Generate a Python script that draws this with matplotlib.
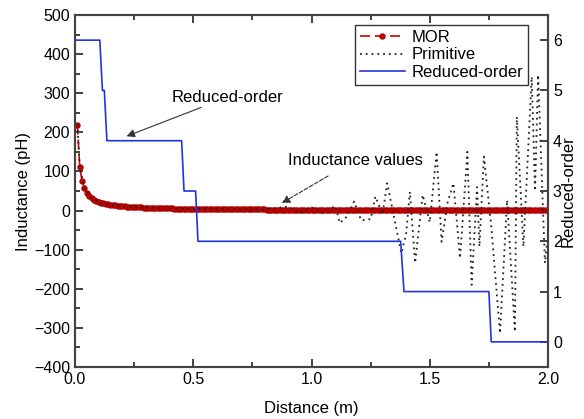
import numpy as np
import matplotlib
matplotlib.use("Agg")
import matplotlib.pyplot as plt
from matplotlib.ticker import MultipleLocator

plt.rcParams['font.family'] = ['Liberation Sans', 'DejaVu Sans']

# MOR inductance (pH), sampled every 0.01 m from 0.01 to 2.00 m
mor_x = np.round(np.arange(1, 201) * 0.01, 2)
mor_y = [
    220, 112, 76, 57, 45, 38, 32, 28, 25, 22,
    20, 18.5, 17, 16, 15, 14, 13, 12.3, 11.6, 11,
    10.5, 10, 9.6, 9.2, 8.8, 8.5, 8.1, 7.9, 7.6, 7.3,
    7.1, 6.9, 6.7, 6.5, 6.3, 6.1, 5.9, 5.8, 5.6, 5.5,
    5.4, 5.2, 5.1, 5.0, 4.9, 4.8, 4.7, 4.6, 4.5, 4.4,
    4.3, 4.2, 4.2, 4.1, 4.0, 3.9, 3.9, 3.8, 3.7, 3.7,
    3.6, 3.5, 3.5, 3.4, 3.4, 3.3, 3.3, 3.2, 3.2, 3.1,
    3.1, 3.1, 3.0, 3.0, 2.9, 2.9, 2.9, 2.8, 2.8, 2.8,
    2.7, 2.7, 2.7, 2.6, 2.6, 2.6, 2.5, 2.5, 2.5, 2.4,
    2.4, 2.4, 2.4, 2.3, 2.3, 2.3, 2.3, 2.2, 2.2, 2.2,
    2.2, 2.2, 2.1, 2.1, 2.1, 2.1, 2.1, 2.0, 2.0, 2.0,
    2.0, 2.0, 1.9, 1.9, 1.9, 1.9, 1.9, 1.9, 1.8, 1.8,
    1.8, 1.8, 1.8, 1.8, 1.8, 1.7, 1.7, 1.7, 1.7, 1.7,
    1.7, 1.7, 1.7, 1.6, 1.6, 1.6, 1.6, 1.6, 1.6, 1.6,
    1.6, 1.5, 1.5, 1.5, 1.5, 1.5, 1.5, 1.5, 1.5, 1.5,
    1.5, 1.4, 1.4, 1.4, 1.4, 1.4, 1.4, 1.4, 1.4, 1.4,
    1.4, 1.4, 1.3, 1.3, 1.3, 1.3, 1.3, 1.3, 1.3, 1.3,
    1.3, 1.3, 1.3, 1.3, 1.3, 1.2, 1.2, 1.2, 1.2, 1.2,
    1.2, 1.2, 1.2, 1.2, 1.2, 1.2, 1.2, 1.2, 1.2, 1.2,
    1.2, 1.1, 1.1, 1.1, 1.1, 1.1, 1.1, 1.1, 1.1, 1.1,
]

# Primitive inductance (pH)
prim_x = [0.01, 0.02, 0.04, 0.07, 0.10, 0.15, 0.20, 0.30, 0.40, 0.50,
          0.60, 0.70, 0.80, 0.90, 0.95, 1.00, 1.05, 1.10, 1.12, 1.15,
          1.18, 1.21, 1.25, 1.27, 1.30, 1.32, 1.35, 1.38, 1.40, 1.416,
          1.438, 1.47, 1.50, 1.529, 1.55, 1.575, 1.60, 1.628, 1.659, 1.677,
          1.70, 1.71, 1.729, 1.76, 1.797, 1.827, 1.86, 1.868, 1.896, 1.931,
          1.945, 1.958, 1.987, 2.00]
prim_y = [220, 112, 57, 32, 22, 15, 11, 7.3, 5.5, 4.4,
          3.7, 3.1, 2.8, 10, -5, 8, -6, 12, -32, -15,
          23, -25, -22, 36, -10, 70, -20, -109, -60, 48,
          -134, 40, -30, 150, -80, 20, 70, -122, 150, -190,
          60, -92, 138, -40, -314, 27, -310, 240, -92, 342,
          50, 347, -134, -60]

# Reduced order (right axis)
red_x = [0.0, 0.105, 0.116, 0.124, 0.135, 0.451, 0.461, 0.51, 0.52,
         1.377, 1.391, 1.750, 1.760, 2.0]
red_y = [6, 6, 5, 5, 4, 4, 3, 3, 2, 2, 1, 1, 0, 0]

fig = plt.figure(figsize=(5.84, 4.19), dpi=100)
ax = fig.add_axes([0.1284, 0.1241, 0.81, 0.8401])
ax2 = ax.twinx()

l_mor, = ax.plot(mor_x, mor_y, color='#cc0000', ls=(0, (6, 3)), lw=1.2,
                 marker='o', ms=3.6, mec='#b00000', mfc='#cc0000', label='MOR')
l_prim, = ax.plot(prim_x, prim_y, color='#222222', ls=(0, (1, 2.2)), lw=1.3,
                  label='Primitive')
l_red, = ax2.plot(red_x, red_y, color='#2233dd', lw=1.2, label='Reduced-order')

ax.set_xlim(0, 2.0)
ax.set_ylim(-400, 500)
ax2.set_ylim(-0.5, 6.5)

ax.xaxis.set_major_locator(MultipleLocator(0.5))
ax.xaxis.set_minor_locator(MultipleLocator(0.25))
ax.yaxis.set_major_locator(MultipleLocator(100))
ax.yaxis.set_minor_locator(MultipleLocator(50))
ax2.yaxis.set_major_locator(MultipleLocator(1))
ax.xaxis.set_major_formatter(plt.FuncFormatter(lambda v, p: f"{v:.1f}"))

ax.tick_params(axis='both', which='both', direction='in', top=True,
               labelsize=11.5, width=1.3, colors='#333333', labelcolor='black')
ax.tick_params(which='major', length=6)
ax.tick_params(which='minor', length=3.5)
ax.tick_params(axis='y', right=False)
ax2.tick_params(axis='y', which='both', direction='in', labelsize=11.5,
                width=1.3, colors='#333333', labelcolor='black', length=6)

for a in (ax, ax2):
    for s in a.spines.values():
        s.set_linewidth(1.5)
        s.set_color('#444444')

ax.set_xlabel('Distance (m)', fontsize=12, labelpad=10)
ax.set_ylabel('Inductance (pH)', fontsize=12, labelpad=2)
ax2.set_ylabel('Reduced-order', fontsize=12, labelpad=-1)

ax.annotate('Reduced-order', xy=(0.218, 190), xytext=(0.41, 290),
            fontsize=12, va='center', ha='left',
            arrowprops=dict(arrowstyle='-|>', color='#333333', lw=0.8,
                            mutation_scale=12, shrinkA=0, shrinkB=0))
ax.annotate('Inductance values', xy=(0.874, 19), xytext=(0.9, 129),
            fontsize=12, va='center', ha='left',
            arrowprops=dict(arrowstyle='-|>', color='#333333', lw=0.8,
                            ls='--', mutation_scale=12, shrinkA=8, shrinkB=0))

leg = ax2.legend([l_mor, l_prim, l_red], ['MOR', 'Primitive', 'Reduced-order'],
                 loc='upper right', bbox_to_anchor=(0.958, 0.972),
                 borderaxespad=0, fontsize=12, numpoints=1, handlelength=2.7,
                 handletextpad=0.4, labelspacing=0.15, borderpad=0.3,
                 fancybox=False, framealpha=1, edgecolor='#333333')
leg.get_frame().set_linewidth(1.0)

fig.savefig('out.png', dpi=100)
